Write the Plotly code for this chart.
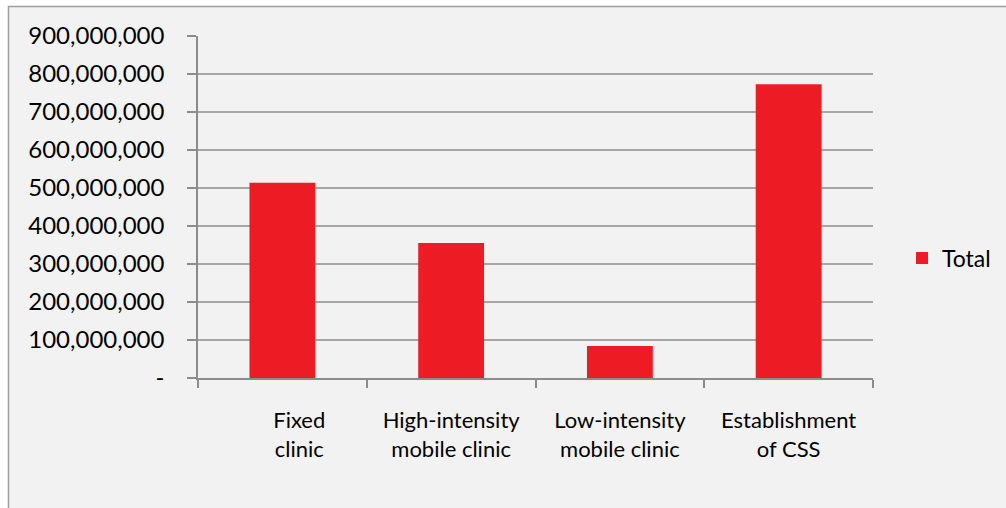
import plotly.graph_objects as go

categories = ["Fixed<br>clinic", "High-intensity<br>mobile clinic", "Low-intensity<br>mobile clinic", "Establishment<br>of CSS"]
totals = [514_000_000, 355_000_000, 84_000_000, 773_000_000]
y_ticks = [0, 100_000_000, 200_000_000, 300_000_000, 400_000_000, 500_000_000,
           600_000_000, 700_000_000, 800_000_000, 900_000_000]
y_tick_text = ["-"] + [f"{v:,}" for v in y_ticks[1:]]

# the first label sits off-centre in the original (trailing spaces in Excel)
_PAD = "&nbsp;" * 6
tick_text = [_PAD + "Fixed<br>" + _PAD + "clinic"] + categories[1:]

_BAR = "#ed1c24"
_BG = "#f2f2f2"
_GRID = "#a6a6a6"
_AXIS = "#8c8c8c"
_FONT = "Lato"

W, H = 1006, 508
L, R, T, B = 198, W - 873, 36, H - 378
PW, PH = W - L - R, H - T - B

fig = go.Figure(
    go.Bar(x=categories, y=totals, name="Total", marker={"color": _BAR, "line": {"width": 0}})
)

# chart-area border (Excel style)
fig.add_shape(
    type="rect", xref="paper", yref="paper",
    x0=(8.5 - L) / PW, x1=(W + 20 - L) / PW,
    y0=-(B + 20) / PH, y1=(H - B - 6.5) / PH,
    line={"color": "#a0a0a0", "width": 1.5}, fillcolor=_BG, layer="below",
)

fig.update_layout(
    width=W, height=H,
    margin={"l": L, "r": R, "t": T, "b": B, "pad": 0, "autoexpand": False},
    paper_bgcolor="white", plot_bgcolor="rgba(0,0,0,0)",
    bargap=0.61,
    font={"family": _FONT, "color": "#000000"},
    showlegend=True,
    legend={"x": (902 - L) / PW, "y": (H - B - 258) / PH, "xanchor": "left", "yanchor": "middle",
            "font": {"size": 23}, "bgcolor": "rgba(0,0,0,0)", "itemwidth": 30},
)
fig.update_xaxes(
    tickvals=categories, ticktext=tick_text,
    showgrid=False, showline=True, linecolor=_AXIS, linewidth=1.5,
    ticks="outside", tickson="boundaries", ticklen=8, tickcolor=_AXIS, tickwidth=1.5,
    tickfont={"size": 22}, ticklabelstandoff=22,
)
fig.update_yaxes(
    range=[0, 900_000_000], tickvals=y_ticks, ticktext=y_tick_text,
    showgrid=True, gridcolor=_GRID, gridwidth=1.5, zeroline=False,
    showline=True, linecolor=_AXIS, linewidth=1.5,
    ticks="outside", ticklen=9, tickcolor=_AXIS, tickwidth=1.5,
    tickfont={"size": 24}, ticklabelstandoff=18,
)

fig.write_html(
    "out.html",
    config={"displayModeBar": False},
    post_script="document.body.style.margin = '0';",
)
